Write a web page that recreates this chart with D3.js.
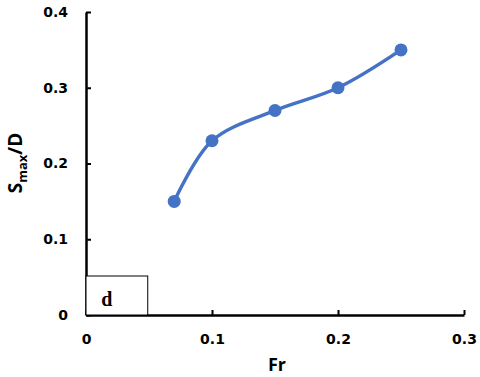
<!DOCTYPE html>
<html>
  <head>
    <meta charset="utf-8">
    <script src="https://d3js.org/d3.v7.min.js"></script>
    <style>
      body { margin: 0; background: #fff; }
      svg { display: block; }
    </style>
  </head>
  <body>
    <svg id="chart" width="480" height="377"></svg>
    <script>
      // values
      var fr = [0.07, 0.1, 0.15, 0.2, 0.25];
      var smax = [0.15, 0.23, 0.27, 0.3, 0.35];
      var xTicks = [0, 0.1, 0.2, 0.3];
      var yTicks = [0, 0.1, 0.2, 0.3, 0.4];
      var points = fr.map(function(d, i) { return { x: d, y: smax[i] }; });

      var svg = d3.select("#chart");
      var x = d3.scaleLinear().domain([0, 0.3]).range([86, 464]);
      var y = d3.scaleLinear().domain([0, 0.4]).range([315, 12]);

      // axes
      var fmt = function(d) { return d === 0 ? "0" : d3.format(".1f")(d); };
      var xAxis = d3.axisBottom(x).tickValues(xTicks).tickSizeInner(-5).tickSizeOuter(0)
        .tickPadding(19).tickFormat(fmt);
      var yAxis = d3.axisLeft(y).tickValues(yTicks).tickSizeInner(-5).tickSizeOuter(0)
        .tickPadding(18).tickFormat(fmt);

      var gx = svg.append("g").attr("transform", "translate(0," + y(0) + ")").call(xAxis);
      var gy = svg.append("g").attr("transform", "translate(" + x(0) + ",0)").call(yAxis);
      [gx, gy].forEach(function(g) {
        g.select(".domain").attr("stroke", "#000").attr("stroke-width", 2.5);
        g.selectAll(".tick line").attr("stroke", "#000").attr("stroke-width", 2);
        g.selectAll(".tick text")
          .attr("fill", "#000")
          .style("font-family", "DejaVu Sans, sans-serif")
          .style("font-weight", "bold")
          .style("font-size", "14px");
      });

      // label box
      svg.append("rect")
        .attr("x", x(0)).attr("y", 276)
        .attr("width", x(0.049) - x(0)).attr("height", y(0) - 276)
        .attr("fill", "#fff").attr("stroke", "#000").attr("stroke-width", 1);
      svg.append("text")
        .attr("x", x(0.0165)).attr("y", 306)
        .attr("text-anchor", "middle")
        .style("font-family", "Liberation Serif, serif")
        .style("font-weight", "bold")
        .style("font-size", "20px")
        .text("d");

      // line + markers
      var line = d3.line()
        .x(function(d) { return x(d.x); })
        .y(function(d) { return y(d.y); })
        .curve(d3.curveCatmullRom.alpha(0.5));
      svg.append("path")
        .attr("d", line(points))
        .attr("fill", "none")
        .attr("stroke", "#4472C4")
        .attr("stroke-width", 3.5);
      svg.selectAll("circle.pt").data(points).enter().append("circle")
        .attr("class", "pt")
        .attr("cx", function(d) { return x(d.x); })
        .attr("cy", function(d) { return y(d.y); })
        .attr("r", 6.5)
        .attr("fill", "#4472C4");

      // axis titles
      svg.append("text")
        .attr("x", 277).attr("y", 371)
        .attr("text-anchor", "middle")
        .style("font-family", "Open Sans, sans-serif")
        .style("font-weight", "bold")
        .style("font-size", "18px")
        .text("Fr");
      var yt = svg.append("text")
        .attr("transform", "translate(22,163) rotate(-90)")
        .attr("text-anchor", "middle")
        .style("font-family", "Open Sans, sans-serif")
        .style("font-weight", "bold")
        .style("font-size", "19px");
      yt.append("tspan").text("S");
      yt.append("tspan").attr("dy", 5).style("font-size", "13px").text("max");
      yt.append("tspan").attr("dy", -5).text("/D");
    </script>
  </body>
</html>
